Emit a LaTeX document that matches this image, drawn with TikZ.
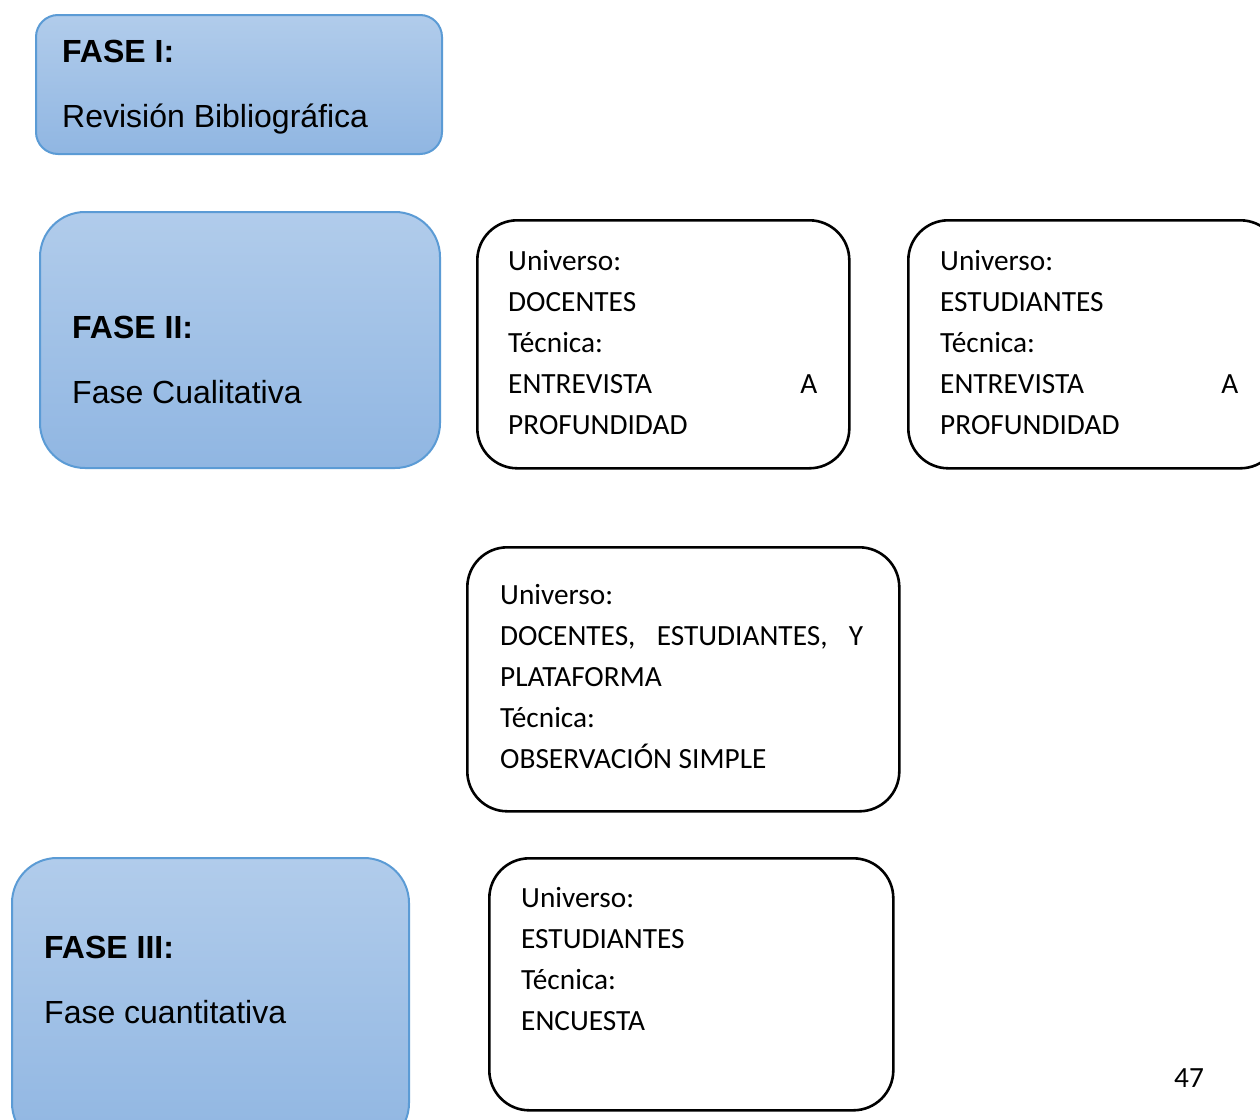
\documentclass[tikz,border=0pt]{standalone}
\usepackage{fontspec}
\setmainfont{Liberation Sans}
\newfontfamily\calfont{Carlito}
\definecolor{phaseborder}{RGB}{91,155,213}
\definecolor{phasetop}{RGB}{177,204,235}
\definecolor{phasebot}{RGB}{144,182,226}
\tikzset{
  phase/.style={draw=phaseborder, line width=2pt, top color=phasetop, bottom color=phasebot, anchor=north west, inner sep=0pt},
  infobox/.style={draw=black, line width=2.6pt, fill=white, rounded corners=40pt, anchor=north west, inner sep=0pt},
  ph/.style={anchor=base west, inner sep=0pt, font=\fontsize{32}{38}\selectfont},
  phb/.style={ph, font=\fontsize{32}{38}\selectfont\bfseries},
  cal/.style={anchor=base west, inner sep=0pt, font=\calfont\fontsize{29.3}{35}\selectfont},
}
\begin{document}
\begin{tikzpicture}[x=1pt,y=-1pt]
\useasboundingbox (0,0) rectangle (1260,1119);
\clip (0,0) rectangle (1260,1119);
\fill[white] (0,0) rectangle (1260,1119);

% Phase boxes
\node[phase, rounded corners=22pt, minimum width=406pt, minimum height=139pt] (f1) at (35,14) {};
\node[phb] (f1t) at (62,62) {FASE I:};
\node[ph] (f1s) at (62,127) {Revisión Bibliográfica};

\node[phase, rounded corners=45pt, minimum width=400pt, minimum height=256pt] (f2) at (39,211) {};
\node[phb] (f2t) at (72,338) {FASE II:};
\node[ph] (f2s) at (72,403) {Fase Cualitativa};

\node[phase, rounded corners=45pt, minimum width=397pt, minimum height=290pt] (f3) at (11,857) {};
\node[phb] (f3t) at (44,958) {FASE III:};
\node[ph] (f3s) at (44,1023) {Fase cuantitativa};

% Box A
\node[infobox, minimum width=372pt, minimum height=248pt] (ba) at (476,219) {};
\node[cal] (ba1) at (508,270) {Universo:};
\node[cal] (ba2) at (508,311) {DOCENTES};
\node[cal] (ba3) at (508,352) {Técnica:};
\node[cal] (ba4) at (508,393) {\makebox[309pt][s]{ENTREVISTA A}};
\node[cal] (ba5) at (508,434) {PROFUNDIDAD};

% Box B
\node[infobox, minimum width=372pt, minimum height=248pt] (bb) at (907,219) {};
\node[cal] (bb1) at (940,270) {Universo:};
\node[cal] (bb2) at (940,311) {ESTUDIANTES};
\node[cal] (bb3) at (940,352) {Técnica:};
\node[cal] (bb4) at (940,393) {\makebox[298pt][s]{ENTREVISTA A}};
\node[cal] (bb5) at (940,434) {PROFUNDIDAD};

% Box C
\node[infobox, minimum width=432pt, minimum height=264pt] (bc) at (466,546) {};
\node[cal] (bc1) at (500,604) {Universo:};
\node[cal] (bc2) at (500,645) {\makebox[363pt][s]{DOCENTES, ESTUDIANTES, Y}};
\node[cal] (bc3) at (500,686) {PLATAFORMA};
\node[cal] (bc4) at (500,727) {Técnica:};
\node[cal] (bc5) at (500,768) {OBSERVACIÓN SIMPLE};

% Box D
\node[infobox, minimum width=404pt, minimum height=252pt] (bd) at (488,857) {};
\node[cal] (bd1) at (521,907) {Universo:};
\node[cal] (bd2) at (521,948) {ESTUDIANTES};
\node[cal] (bd3) at (521,989) {Técnica:};
\node[cal] (bd4) at (521,1030) {ENCUESTA};

\node[cal] (pg) at (1174,1087) {47};
\end{tikzpicture}
\end{document}
